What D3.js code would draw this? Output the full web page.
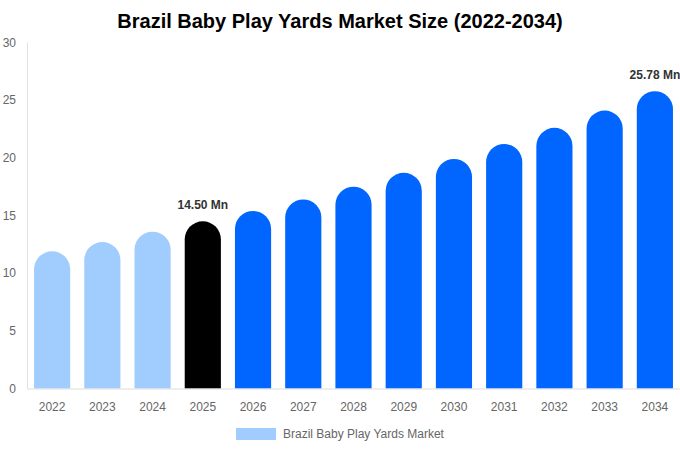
<!DOCTYPE html>
<html>
<head>
<meta charset="utf-8">
<script src="https://cdn.jsdelivr.net/npm/d3@7"></script>
<style>
  body { margin: 0; background: #fff; }
  svg { display: block; font-family: "Liberation Sans", Arial, sans-serif; }
</style>
</head>
<body>
<div id="root"></div>
<script>
// chart data
const years = ["2022","2023","2024","2025","2026","2027","2028","2029","2030","2031","2032","2033","2034"]
const values = [11.9, 12.7, 13.6, 14.5, 15.4, 16.4, 17.5, 18.7, 19.9, 21.2, 22.6, 24.1, 25.78]
const yTicks = [0, 5, 10, 15, 20, 25, 30]
const labelled = {"2025": "14.50 Mn", "2034": "25.78 Mn"}
const seriesName = "Brazil Baby Play Yards Market"
const title = "Brazil Baby Play Yards Market Size (2022-2034)"

const width = 680, height = 450
const margin = {top: 42.5, right: 0, bottom: 61.5, left: 27}

const svg = d3.select("#root").append("svg")
    .attr("width", width)
    .attr("height", height)

const x = d3.scaleBand()
    .domain(years)
    .range([margin.left, width - margin.right])
    .paddingInner(0.28)
    .paddingOuter(0.14)

const y = d3.scaleLinear()
    .domain([0, 30])
    .range([height - margin.bottom, margin.top])

// bar colour: history light, base year black, forecast blue
function barColor(yr) {
    if (+yr < 2025) return "#a0cdfd"
    if (+yr === 2025) return "#000000"
    return "#0066ff"
}

// title
svg.append("text")
    .attr("x", width / 2)
    .attr("y", 28)
    .attr("text-anchor", "middle")
    .attr("font-size", 20)
    .attr("font-weight", "bold")
    .attr("fill", "#000")
    .text(title)

// axes lines
svg.append("line")
    .attr("x1", margin.left + 0.5).attr("x2", margin.left + 0.5)
    .attr("y1", y(30)).attr("y2", y(0))
    .attr("stroke", "#e0e0e0")

// y tick labels
svg.selectAll(".ytick").data(yTicks).enter().append("text")
    .attr("class", "ytick")
    .attr("x", 16)
    .attr("y", d => y(d))
    .attr("dy", "0.35em")
    .attr("text-anchor", "end")
    .attr("font-size", 12)
    .attr("fill", "#666")
    .text(d => d)

// bars with fully rounded tops
svg.selectAll(".bar").data(years).enter().append("path")
    .attr("class", "bar")
    .attr("fill", d => barColor(d))
    .attr("d", (d, i) => {
        const x0 = x(d), w = x.bandwidth(), r = w / 2
        const top = y(values[i]), base = y(0)
        return `M${x0},${base} L${x0},${top + r} A${r},${r} 0 0 1 ${x0 + w},${top + r} L${x0 + w},${base} Z`
    })

svg.append("line")
    .attr("x1", margin.left).attr("x2", width)
    .attr("y1", y(0) + 0.5).attr("y2", y(0) + 0.5)
    .attr("stroke", "#dddddd")

// x labels
svg.selectAll(".xtick").data(years).enter().append("text")
    .attr("class", "xtick")
    .attr("x", d => x(d) + x.bandwidth() / 2)
    .attr("y", y(0) + 18)
    .attr("dy", "0.35em")
    .attr("text-anchor", "middle")
    .attr("font-size", 12)
    .attr("fill", "#666")
    .text(d => d)

// value labels
svg.selectAll(".vlabel").data(years.filter(d => labelled[d])).enter().append("text")
    .attr("class", "vlabel")
    .attr("x", d => x(d) + x.bandwidth() / 2)
    .attr("y", d => y(values[years.indexOf(d)]) - 16)
    .attr("dy", "0.35em")
    .attr("text-anchor", "middle")
    .attr("font-size", 12)
    .attr("font-weight", "bold")
    .attr("fill", "#333")
    .text(d => labelled[d])

// legend
const legend = svg.append("g").attr("transform", "translate(236,428)")
legend.append("rect")
    .attr("width", 40).attr("height", 12)
    .attr("fill", "#a0cdfd")
legend.append("text")
    .attr("x", 47).attr("y", 6)
    .attr("dy", "0.35em")
    .attr("font-size", 12)
    .attr("fill", "#666")
    .text(seriesName)
</script>
</body>
</html>
